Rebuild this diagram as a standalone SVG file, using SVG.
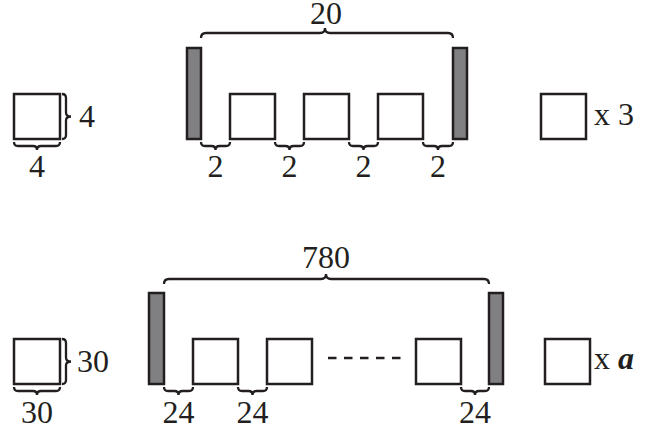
<svg xmlns="http://www.w3.org/2000/svg" width="649" height="432" viewBox="0 0 649 432">
<style>
.sq{fill:#fff;stroke:#231f20;stroke-width:2.5}
.bar{fill:#808083;stroke:#231f20;stroke-width:2.5}
.br{fill:none;stroke:#231f20;stroke-width:2.3}
.t{font-family:"Liberation Serif","Times New Roman",serif;font-size:32px;fill:#231f20}
.m{text-anchor:middle}
</style>
<rect width="649" height="432" fill="#fff"/>
<g id="row1-unit">
<rect class="sq" x="14" y="94" width="46" height="45"/>
<path class="br" d="M62 94 Q66 94 66 98 L66 112.5 Q66 116.5 71 116.5 Q66 116.5 66 120.5 L66 135 Q66 139 62 139"/>
<text class="t" x="79" y="127">4</text>
<path class="br" d="M14 142 Q14 146 18 146 L33 146 Q37 146 37 150 Q37 146 41 146 L56 146 Q60 146 60 142"/>
<text class="t m" x="37" y="177">4</text>
</g>
<g id="row1-frame">
<rect class="bar" x="187" y="48" width="14" height="91"/>
<rect class="bar" x="453" y="48" width="14" height="91"/>
<path class="br" d="M201 38 Q201 33 206 33 L320 33 Q325 33 325 28 Q325 33 330 33 L448 33 Q453 33 453 38"/>
<text class="t m" x="326" y="24">20</text>
<rect class="sq" x="230" y="94" width="45" height="45"/>
<rect class="sq" x="304" y="94" width="45" height="45"/>
<rect class="sq" x="378" y="94" width="45" height="45"/>
<path class="br" d="M201 142 Q201 146 205 146 L211.5 146 Q215.5 146 215.5 150 Q215.5 146 219.5 146 L226 146 Q230 146 230 142"/>
<path class="br" d="M275 142 Q275 146 279 146 L285.5 146 Q289.5 146 289.5 150 Q289.5 146 293.5 146 L300 146 Q304 146 304 142"/>
<path class="br" d="M349 142 Q349 146 353 146 L359.5 146 Q363.5 146 363.5 150 Q363.5 146 367.5 146 L374 146 Q378 146 378 142"/>
<path class="br" d="M423 142 Q423 146 427 146 L434 146 Q438 146 438 150 Q438 146 442 146 L449 146 Q453 146 453 142"/>
<text class="t m" x="215.5" y="177">2</text>
<text class="t m" x="289.5" y="177">2</text>
<text class="t m" x="363.5" y="177">2</text>
<text class="t m" x="438" y="177">2</text>
</g>
<g id="row1-count">
<rect class="sq" x="541" y="94" width="45" height="45"/>
<text class="t" x="594" y="125">x 3</text>
</g>
<g id="row2-unit">
<rect class="sq" x="14" y="339" width="46" height="45"/>
<path class="br" d="M62 339 Q66 339 66 343 L66 357.5 Q66 361.5 71 361.5 Q66 361.5 66 365.5 L66 380 Q66 384 62 384"/>
<text class="t" x="77" y="372">30</text>
<path class="br" d="M14 387 Q14 391 18 391 L33 391 Q37 391 37 395 Q37 391 41 391 L56 391 Q60 391 60 387"/>
<text class="t m" x="37" y="423">30</text>
</g>
<g id="row2-frame">
<rect class="bar" x="149" y="293" width="15" height="91"/>
<rect class="bar" x="489" y="293" width="14" height="91"/>
<path class="br" d="M164 284 Q164 279 169 279 L321 279 Q326 279 326 274 Q326 279 331 279 L484 279 Q489 279 489 284"/>
<text class="t m" x="326" y="268">780</text>
<rect class="sq" x="193" y="339" width="45" height="45"/>
<rect class="sq" x="267" y="339" width="45" height="45"/>
<rect class="sq" x="416" y="339" width="45" height="45"/>
<line x1="328" y1="358" x2="401" y2="358" stroke="#231f20" stroke-width="2.5" stroke-dasharray="8.5 7.5"/>
<path class="br" d="M164 387 Q164 391 168 391 L174.5 391 Q178.5 391 178.5 395 Q178.5 391 182.5 391 L189 391 Q193 391 193 387"/>
<path class="br" d="M238 387 Q238 391 242 391 L248.5 391 Q252.5 391 252.5 395 Q252.5 391 256.5 391 L263 391 Q267 391 267 387"/>
<path class="br" d="M461 387 Q461 391 465 391 L471 391 Q475 391 475 395 Q475 391 479 391 L485 391 Q489 391 489 387"/>
<text class="t m" x="178.5" y="423">24</text>
<text class="t m" x="252.5" y="423">24</text>
<text class="t m" x="475" y="423">24</text>
</g>
<g id="row2-count">
<rect class="sq" x="545" y="339" width="45" height="45"/>
<text class="t" x="594" y="369">x <tspan font-weight="bold" font-style="italic">a</tspan></text>
</g>
</svg>
